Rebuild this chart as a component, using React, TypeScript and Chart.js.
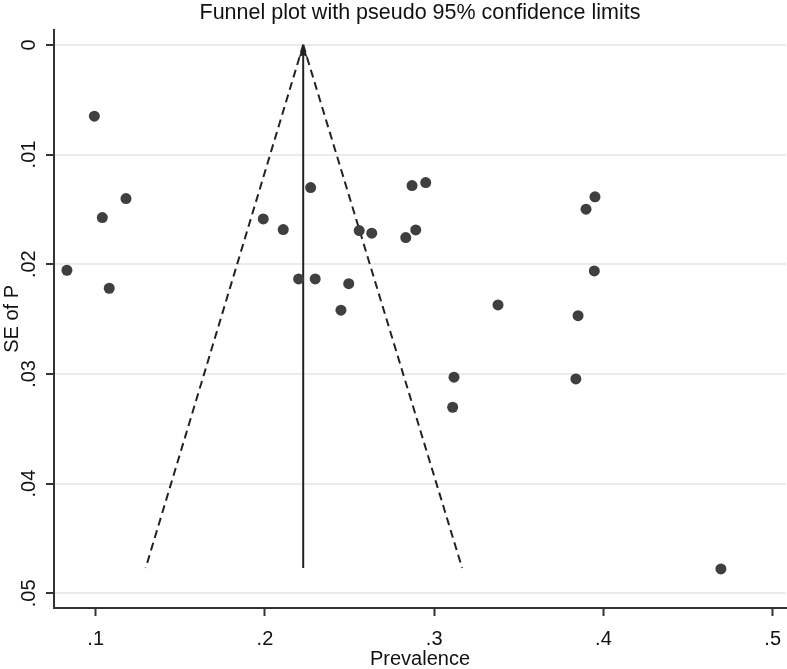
import React, { useEffect, useRef } from 'react';
import { Chart, registerables } from 'chart.js';

Chart.register(...registerables);

// Study estimates
const prevalence = [
  0.0992, 0.1039, 0.1179, 0.083, 0.108, 0.199, 0.2108, 0.227, 0.2557, 0.2631,
  0.2199, 0.2297, 0.2495, 0.2449, 0.2869, 0.295, 0.2832, 0.2891, 0.3897, 0.395,
  0.3946, 0.3377, 0.385, 0.3117, 0.3837, 0.3109, 0.4694,
];
const seOfP = [
  0.0065, 0.01575, 0.01402, 0.02055, 0.02219, 0.01587, 0.01684, 0.01301, 0.01693, 0.01717,
  0.02134, 0.02134, 0.02177, 0.02419, 0.01283, 0.01256, 0.01757, 0.01687, 0.01498, 0.01386,
  0.02061, 0.02371, 0.02469, 0.0303, 0.03046, 0.03304, 0.04778,
];

// Pooled estimate and pseudo 95% limits
const pooled = 0.2226;
const seMax = 0.0477;
const lowerLimitAtMax = 0.1295;
const upperLimitAtMax = 0.3165;

// Axes
const xTicks = [0.1, 0.2, 0.3, 0.4, 0.5];
const xTickLabels = ['.1', '.2', '.3', '.4', '.5'];
const yTicks = [0, 0.01, 0.02, 0.03, 0.04, 0.05];
const yTickLabels = ['0', '.01', '.02', '.03', '.04', '.05'];
const xRange = [0.07536, 0.50786];
const yRange = [-0.00137, 0.05134];

const titleText = 'Funnel plot with pseudo 95% confidence limits';
const xTitle = 'Prevalence';
const yTitle = 'SE of P';

const FONT = "'Liberation Sans', Arial, Helvetica, sans-serif";
const INK = '#222222';

const arrowPlugin = {
  id: 'arrowHead',
  afterDatasetsDraw(chart: any) {
    const meta = chart.getDatasetMeta(1);
    const tip = meta && meta.data && meta.data[0];
    if (!tip) return;
    const ctx = chart.ctx;
    ctx.save();
    ctx.fillStyle = INK;
    ctx.beginPath();
    ctx.moveTo(tip.x, tip.y);
    ctx.lineTo(tip.x - 4.5, tip.y + 13);
    ctx.lineTo(tip.x, tip.y + 10);
    ctx.lineTo(tip.x + 4.5, tip.y + 13);
    ctx.closePath();
    ctx.fill();
    ctx.restore();
  },
};

export default function App() {
  const ref = useRef<HTMLCanvasElement | null>(null);

  useEffect(() => {
    if (!ref.current) return;
    const points = prevalence.map((p, i) => ({ x: p, y: seOfP[i] }));
    const chart = new Chart(ref.current, {
      type: 'scatter',
      data: {
        datasets: [
          {
            label: 'Studies',
            data: points,
            pointRadius: 5.5,
            pointStyle: 'circle',
            backgroundColor: '#3f3f3f',
            borderWidth: 0,
            order: 0,
          },
          {
            label: 'Pooled',
            data: [
              { x: pooled, y: 0 },
              { x: pooled, y: seMax },
            ],
            showLine: true,
            pointRadius: 0,
            borderColor: INK,
            borderWidth: 2,
            order: 1,
          },
          {
            label: 'Lower limit',
            data: [
              { x: pooled, y: 0 },
              { x: lowerLimitAtMax, y: seMax },
            ],
            showLine: true,
            pointRadius: 0,
            borderColor: INK,
            borderWidth: 2,
            borderDash: [8, 5],
            order: 1,
          },
          {
            label: 'Upper limit',
            data: [
              { x: pooled, y: 0 },
              { x: upperLimitAtMax, y: seMax },
            ],
            showLine: true,
            pointRadius: 0,
            borderColor: INK,
            borderWidth: 2,
            borderDash: [8, 5],
            order: 1,
          },
        ],
      },
      options: {
        animation: false,
        responsive: false,
        devicePixelRatio: 1,
        layout: { autoPadding: false, padding: { left: 0, right: 1, top: 0, bottom: 0 } },
        plugins: {
          legend: { display: false },
          tooltip: { enabled: false },
          title: {
            display: true,
            text: titleText,
            fullSize: false,
            color: '#111',
            font: { family: FONT, size: 21.5, weight: 'normal', lineHeight: 1.2 },
            padding: { top: 0, bottom: 4 },
          },
        },
        scales: {
          x: {
            type: 'linear',
            min: xRange[0],
            max: xRange[1],
            afterBuildTicks: (scale: any) => {
              scale.ticks = xTicks.map((v) => ({ value: v }));
            },
            afterFit: (scale: any) => {
              scale.height = 61;
              scale.paddingLeft = 0;
              scale.paddingRight = 0;
            },
            ticks: {
              autoSkip: false,
              maxRotation: 0,
              minRotation: 0,
              padding: 11,
              color: '#111',
              font: { family: FONT, size: 20 },
              callback: (v: any) => {
                const i = xTicks.findIndex((t) => Math.abs(t - v) < 1e-9);
                return i >= 0 ? xTickLabels[i] : '';
              },
            },
            grid: {
              display: true,
              drawOnChartArea: false,
              drawTicks: true,
              tickLength: 8,
              tickWidth: 2,
              tickColor: '#333',
            },
            border: { display: true, color: '#333', width: 2 },
            title: {
              display: true,
              text: xTitle,
              color: '#111',
              font: { family: FONT, size: 20, lineHeight: 1 },
              padding: { top: 0, bottom: 0 },
            },
          },
          y: {
            type: 'linear',
            reverse: true,
            min: yRange[0],
            max: yRange[1],
            afterBuildTicks: (scale: any) => {
              scale.ticks = yTicks.map((v) => ({ value: v }));
            },
            afterFit: (scale: any) => {
              scale.width = 54;
              scale.paddingTop = 0;
              scale.paddingBottom = 0;
            },
            ticks: {
              autoSkip: false,
              minRotation: 90,
              maxRotation: 90,
              crossAlign: 'center',
              padding: 3,
              color: '#111',
              font: { family: FONT, size: 20 },
              callback: (v: any) => {
                const i = yTicks.findIndex((t) => Math.abs(t - v) < 1e-9);
                return i >= 0 ? yTickLabels[i] : '';
              },
            },
            grid: {
              display: true,
              drawOnChartArea: true,
              color: '#ebebeb',
              lineWidth: 2,
              drawTicks: true,
              tickLength: 8,
              tickWidth: 2,
              tickColor: '#333',
            },
            border: { display: true, color: '#333', width: 2 },
            title: {
              display: true,
              text: yTitle,
              color: '#111',
              font: { family: FONT, size: 20, lineHeight: 1.2 },
              padding: { top: 0, bottom: 0 },
            },
          },
        },
      },
      plugins: [arrowPlugin],
    } as any);
    return () => chart.destroy();
  }, []);

  return (
    <div style={{ position: 'absolute', left: 0, top: 0, width: 787, height: 669, background: '#fff' }}>
      <canvas ref={ref} width={787} height={669} style={{ display: 'block' }} />
    </div>
  );
}
